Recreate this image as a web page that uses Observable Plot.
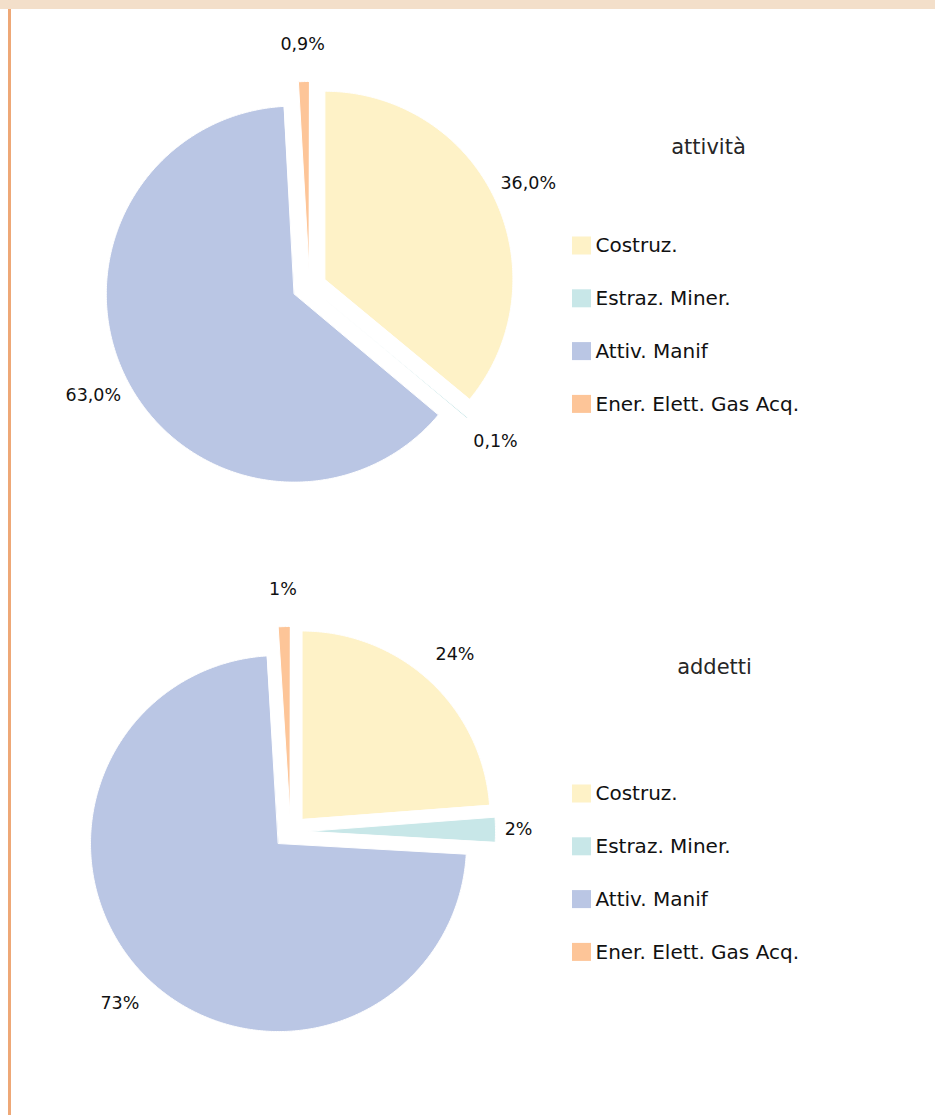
<!DOCTYPE html>
<html>
<head>
<meta charset="utf-8">
<script src="https://cdn.jsdelivr.net/npm/d3@7"></script>
<script src="https://cdn.jsdelivr.net/npm/@observablehq/plot@0.6"></script>
<style>
  body { margin: 0; background: #ffffff; }
  #wrap { position: relative; width: 935px; height: 1115px; overflow: hidden; background: #ffffff; }
  #chart { position: absolute; left: 0; top: 0; }
  #band { position: absolute; left: 0; top: 0; width: 935px; height: 9px; background: #F3DFCA; z-index: 2; }
  #rule { position: absolute; left: 8px; top: 9px; width: 3px; height: 1106px; background: #EEA877; z-index: 2; }
</style>
</head>
<body>
<div id="wrap">
  <div id="chart"></div>
  <div id="band"></div>
  <div id="rule"></div>
</div>
<script>
// ---- data ----
const categories = ["Costruz.", "Estraz. Miner.", "Attiv. Manif", "Ener. Elett. Gas Acq."];
const colors = ["#FEF2C7", "#C8E7E8", "#BAC6E4", "#FDC598"];
const attivitaValues = [36.0, 0.1, 63.0, 0.9];
const addettiValues = [23.8, 2.1, 73.1, 1.0];
const chartTitles = ["attività", "addetti"];

// ---- layout (not data) ----
const W = 935, H = 1115;
const pies = [
  {title: chartTitles[0], values: attivitaValues, cx: 309, cy: 286, r: 188, explode: 17, labelR: 242,
   fmt: v => v.toFixed(1).replace(".", ",") + "%", titleX: 708, titleY: 146.5, legendY0: 245.5},
  {title: chartTitles[1], values: addettiValues, cx: 290, cy: 831, r: 188, explode: 17, labelR: 242,
   fmt: v => Math.round(v) + "%", titleX: 714, titleY: 667, legendY0: 793.5}
];
const legendStep = 52.8;

const sliceRows = [], labelRows = [], legendRows = [], titleRows = [];
pies.forEach((p, pi) => {
  const total = d3.sum(p.values);
  let cum = 0;
  p.values.forEach((v, i) => {
    const a0 = cum / total * 2 * Math.PI;
    cum += v;
    const a1 = cum / total * 2 * Math.PI;
    const mid = (a0 + a1) / 2;
    const ax = p.cx + p.explode * Math.sin(mid);
    const ay = p.cy - p.explode * Math.cos(mid);
    const key = pi + "|" + i;
    sliceRows.push({key, cat: categories[i], x: ax, y: ay});
    const n = Math.max(2, Math.ceil((a1 - a0) / (Math.PI / 360)));
    for (let k = 0; k <= n; k++) {
      const a = a0 + (a1 - a0) * k / n;
      sliceRows.push({key, cat: categories[i], x: ax + p.r * Math.sin(a), y: ay - p.r * Math.cos(a)});
    }
    // label distance: labels lying almost horizontal sit a little closer to the pie
    const lr = p.labelR - 14 * Math.pow(Math.abs(Math.sin(mid)), 40);
    labelRows.push({x: p.cx + lr * Math.sin(mid), y: p.cy - lr * Math.cos(mid), text: p.fmt(v)});
    const yc = p.legendY0 + i * legendStep;
    legendRows.push({cat: categories[i], x1: 572, x2: 591, y1: yc - 9, y2: yc + 9, tx: 595, yc});
  });
  titleRows.push({x: p.titleX, y: p.titleY, text: p.title});
});

const chart = Plot.plot({
  width: W,
  height: H,
  margin: 0,
  style: {background: "transparent", fontFamily: "'DejaVu Sans', Verdana, sans-serif"},
  x: {domain: [0, W], range: [0, W], axis: null},
  y: {domain: [0, H], range: [0, H], axis: null},
  color: {type: "ordinal", domain: categories, range: colors, legend: false},
  marks: [
    Plot.line(sliceRows, {x: "x", y: "y", z: "key", fill: "cat", stroke: "#ffffff", strokeWidth: 1, curve: "linear-closed"}),
    Plot.text(labelRows, {x: "x", y: "y", text: "text", fontSize: 17.5, fill: "#111111"}),
    Plot.rect(legendRows, {x1: "x1", x2: "x2", y1: "y1", y2: "y2", fill: "cat"}),
    Plot.text(legendRows, {x: "tx", y: "yc", text: "cat", textAnchor: "start", fontSize: 20, fill: "#111111"}),
    Plot.text(titleRows, {x: "x", y: "y", text: "text", fontSize: 21, fill: "#262626"})
  ]
});
document.getElementById("chart").appendChild(chart);
</script>
</body>
</html>
